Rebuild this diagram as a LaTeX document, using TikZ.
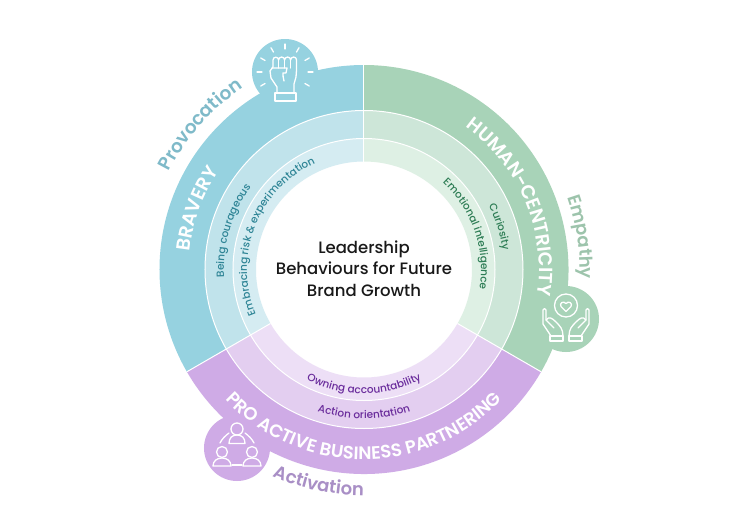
\documentclass[tikz,border=0pt]{standalone}
\usepackage{fontspec}
\usetikzlibrary{decorations.text}
\setmainfont{Poppins Medium}
\newfontfamily\pmed{Poppins Medium}
\newfontfamily\psemi{Poppins SemiBold}
\definecolor{bA}{HTML}{96D2E0}\definecolor{bB}{HTML}{C0E3EB}\definecolor{bC}{HTML}{D5ECF2}
\definecolor{gA}{HTML}{A8D3B8}\definecolor{gB}{HTML}{CDE6D8}\definecolor{gC}{HTML}{DEF0E4}
\definecolor{pA}{HTML}{CFABE6}\definecolor{pB}{HTML}{E3CEF0}\definecolor{pC}{HTML}{EDDFF6}
\definecolor{bT}{HTML}{7FBAC9}\definecolor{gT}{HTML}{9DC4AC}\definecolor{pT}{HTML}{A98FC6}
\definecolor{bD}{HTML}{2F8596}\definecolor{gD}{HTML}{2E7D55}\definecolor{pD}{HTML}{6A2C9C}
\newcommand{\sect}[5]{\fill[#5] (#1:#3) -- (#1:#4) arc[start angle=#1,end angle=#2,radius=#4] -- (#2:#3) arc[start angle=#2,end angle=#1,radius=#3] -- cycle;}
% centre angle, half span, radius, size, colour, font, text
\newcommand{\arctext}[7]{\path[decorate,decoration={text along path,text align={center},
  text={|#6\fontsize{#4}{#4}\selectfont\color{#5}|#7}}]
  (\fpeval{#1+#2}:#3) arc[start angle=\fpeval{#1+#2},end angle=\fpeval{#1-#2},radius=#3];}
\newcommand{\arcup}[7]{\path[decorate,decoration={text along path,text align={center},
  text={|#6\fontsize{#4}{#4}\selectfont\color{#5}|#7}}]
  (\fpeval{#1-#2}:#3) arc[start angle=\fpeval{#1-#2},end angle=\fpeval{#1+#2},radius=#3];}
\tikzset{icon/.style={draw=white,line width=1.3pt,line join=round,line cap=round},
 sep/.style={draw=white,line width=1pt}}
\begin{document}
\begin{tikzpicture}[x=1pt,y=1pt]
\useasboundingbox (-364,-261.5) rectangle (386,269.5);
\fill[white] (-364,-261.5) rectangle (386,269.5);
% icon discs
\fill[bA] (-79,197.5) circle (33);
\fill[gA] (202,-49.5) circle (33);
\fill[pA] (-127,-178.5) circle (33);
% sectors
\sect{90}{210}{159}{204.5}{bA}\sect{90}{210}{131}{159}{bB}\sect{90}{210}{108}{131}{bC}
\sect{-30}{90}{159}{204.5}{gA}\sect{-30}{90}{131}{159}{gB}\sect{-30}{90}{108}{131}{gC}
\sect{210}{330}{159}{204.5}{pA}\sect{210}{330}{131}{159}{pB}\sect{210}{330}{108}{131}{pC}
% separators
\draw[sep] (0,0) circle (131) (0,0) circle (159);
\foreach \a in {90,210,330} {\draw[sep] (\a:108) -- (\a:204.5);}
% arc texts
\arctext{138.5}{30}{218}{18.5}{bT}{\psemi}{Provocation}
\arctext{160}{28}{175}{19}{white}{\psemi}{BR{AV}ERY}
\arctext{23}{50}{175}{19}{white}{\psemi}{HUMAN-CENTRICITY}
\arctext{8.5}{25}{216}{18}{gT}{\psemi}{Empathy}
\arctext{163.5}{30}{140}{10.5}{bD}{\pmed}{Being courageous}
\arctext{158.5}{60}{117}{10.5}{bD}{\pmed}{Embracing risk {\&} experimentation}
\arctext{17.5}{20}{140}{10.5}{gD}{\pmed}{Curiosity}
\arctext{19}{45}{117}{10.5}{gD}{\pmed}{Emotional intelligence}
\arcup{270}{60}{190}{18}{white}{\psemi}{PRO ACTIVE BUSINESS PARTNERING}
\arcup{258}{25}{226}{18}{pT}{\psemi}{Activation}
\arcup{270}{40}{124}{10.5}{pD}{\pmed}{Owning accountability}
\arcup{270}{30}{149}{10.5}{pD}{\pmed}{Action orientation}
% centre
\node[name=title,align=center,font=\pmed\fontsize{16.5}{21.5}\selectfont,text=black!90] at (0,1) {Leadership\\Behaviours for Future\\Brand Growth};
% fist icon
\begin{scope}[shift={(-79,197.5)}]
\foreach \a in {-30,0,30,60,90,120,150,180,210} {\draw[icon] (\a:23) -- (\a:28);}
\draw[icon] (-10,-21) rectangle (11,-29);
\draw[icon] (-8,-21) -- (-8,-15) -- (-14,-6) -- (-15,1) -- (-12,5) -- (-12,12) arc[start angle=180,end angle=0,radius=2.8]
  arc[start angle=180,end angle=0,radius=3] arc[start angle=180,end angle=0,radius=3] arc[start angle=180,end angle=0,radius=3]
  -- (11.6,3) -- (11,-5) -- (9,-12) -- (9,-21);
\draw[icon] (-6.4,12) -- (-6.4,4) (-0.4,12) -- (-0.4,4) (5.6,12) -- (5.6,4);
\draw[icon] (-13,4) -- (2,4) -- (1,-1) -- (-2,-1) .. controls (-3,-3) and (-1,-6) .. (-1,-9);
\end{scope}
% hands icon
\begin{scope}[shift={(202,-49.5)}]
\draw[icon] (0,13.5) circle (11.5);
\draw[icon] (0,7.5) -- (-5,12.5) .. controls (-7,16) and (-2.5,18.5) .. (0,15.5) .. controls (2.5,18.5) and (7,16) .. (5,12.5) -- cycle;
\foreach \s in {1,-1} {\begin{scope}[xscale=\s]
\draw[icon] (-16,-17) rectangle (-3,-22);
\draw[icon] (-15,-17) -- (-23,-5) -- (-23,9) arc[start angle=180,end angle=0,radius=1.5] -- (-20,-1) -- (-12,-9);
\draw[icon] (-20,-1) .. controls (-17,3) and (-14,1) .. (-10,-3) .. controls (-6,-7) and (-3,-10) .. (-3,-17);
\end{scope}}
\end{scope}
% people icon
\begin{scope}[shift={(-127,-178.5)}]
\draw[icon] (0,19) circle (6);
\draw[icon] (-8,4.5) .. controls (-8,10) and (-5,13) .. (0,13) .. controls (5,13) and (8,10) .. (8,4.5) -- cycle;
\foreach \s in {-15,15} {\begin{scope}[xshift=\s]
\draw[icon] (0,-4) circle (5.5);
\draw[icon] (-9,-18) .. controls (-9,-13) and (-5,-10) .. (0,-10) .. controls (5,-10) and (9,-13) .. (9,-18) -- cycle;
\end{scope}}
\draw[icon] (-17,5) .. controls (-15,9) and (-12,12) .. (-8,15);
\draw[icon] (17,5) .. controls (15,9) and (12,12) .. (8,15);
\draw[icon] (-5,-17) -- (5,-17);
\end{scope}
\end{tikzpicture}
\end{document}
